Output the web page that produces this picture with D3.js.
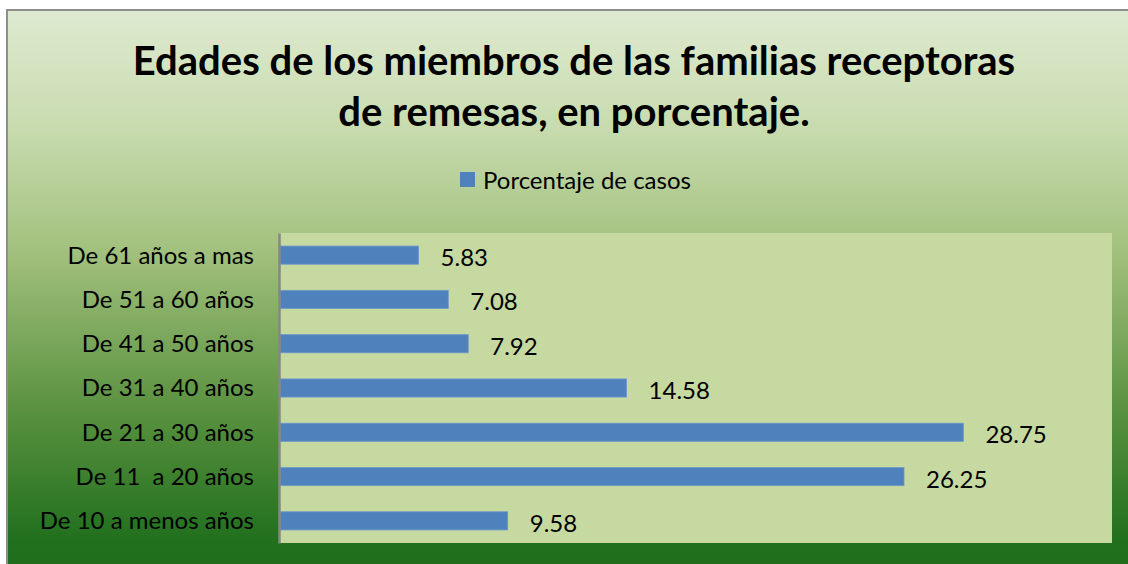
<!DOCTYPE html>
<html>
<head>
<meta charset="utf-8">
<script src="https://cdn.jsdelivr.net/npm/d3@7"></script>
<style>
  html, body { margin: 0; padding: 0; background: #ffffff; overflow: hidden; }
  svg text { font-family: Lato, "Open Sans", sans-serif; white-space: pre; }
</style>
</head>
<body>
<div id="chart"></div>
<script>
// categories top to bottom, as in the picture
const categories = ["De 61 años a mas", "De 51 a 60 años", "De 41 a 50 años", "De 31 a 40 años", "De 21 a 30 años", "De 11  a 20 años", "De 10 a menos años"];
const values = [5.83, 7.08, 7.92, 14.58, 28.75, 26.25, 9.58];
const seriesName = "Porcentaje de casos";
const titleLines = ["Edades de los miembros de las familias receptoras", "de remesas, en porcentaje."];

const W = 1128, H = 564;
const plot = { left: 279, top: 233, right: 1112, bottom: 543 };

const svg = d3.select("#chart").append("svg").attr("width", W).attr("height", H);

// background gradient of the chart frame
const defs = svg.append("defs");
const grad = defs.append("linearGradient").attr("id", "bg").attr("x1", 0).attr("y1", 0).attr("x2", 0).attr("y2", 1);
grad.append("stop").attr("offset", "0%").attr("stop-color", "#deead0");
grad.append("stop").attr("offset", "20%").attr("stop-color", "#c9dcb0");
grad.append("stop").attr("offset", "42%").attr("stop-color", "#a3c17e");
grad.append("stop").attr("offset", "70%").attr("stop-color", "#5a9240");
grad.append("stop").attr("offset", "93%").attr("stop-color", "#21701e");
grad.append("stop").attr("offset", "100%").attr("stop-color", "#1f6d1b");

svg.append("rect")
  .attr("x", 7).attr("y", 10).attr("width", 1130).attr("height", 570)
  .attr("fill", "url(#bg)").attr("stroke", "#8e8e8e").attr("stroke-width", 2);

// plot area
svg.append("rect")
  .attr("x", plot.left).attr("y", plot.top)
  .attr("width", plot.right - plot.left).attr("height", plot.bottom - plot.top)
  .attr("fill", "#c6d9a0");

const x = d3.scaleLinear().domain([0, 35]).range([plot.left + 1, plot.right]);
const y = d3.scaleBand().domain(categories).range([plot.top, plot.bottom]).paddingInner(0.59).paddingOuter(0.295);

// bars
svg.append("g").selectAll("rect")
  .data(values)
  .enter()
  .append("rect")
  .attr("x", x(0))
  .attr("y", (d, i) => y(categories[i]))
  .attr("width", d => x(d) - x(0))
  .attr("height", y.bandwidth())
  .attr("fill", "#4f81bd")
  .attr("stroke", "#6f9acb")
  .attr("stroke-width", 0.8);

// value labels
svg.append("g").selectAll("text")
  .data(values)
  .enter()
  .append("text")
  .attr("x", d => x(d) + 22)
  .attr("y", (d, i) => y(categories[i]) + y.bandwidth() / 2 + 11)
  .attr("font-size", 24)
  .attr("fill", "#000")
  .text(d => d.toFixed(2));

// category axis
const yAxis = svg.append("g")
  .attr("transform", `translate(${plot.left},0)`)
  .call(d3.axisLeft(y).tickSize(0).tickPadding(25));
yAxis.select(".domain").attr("stroke", "#868686").attr("stroke-width", 2.5);
yAxis.selectAll("text")
  .attr("font-size", 24)
  .attr("font-family", "Lato, 'Open Sans', sans-serif")
  .attr("fill", "#000")
  .attr("dy", "0.35em");

// title
svg.append("g").selectAll("text")
  .data(titleLines)
  .enter()
  .append("text")
  .attr("x", 574)
  .attr("y", (d, i) => 75 + i * 51)
  .attr("text-anchor", "middle")
  .attr("font-size", 40)
  .attr("font-weight", "bold")
  .attr("fill", "#000")
  .text(d => d);

// legend
const legend = svg.append("g").attr("transform", "translate(460,172)");
legend.append("rect").attr("width", 15).attr("height", 15).attr("fill", "#4f81bd");
legend.append("text").attr("x", 23).attr("y", 17).attr("font-size", 24).attr("fill", "#000").text(seriesName);
</script>
</body>
</html>
